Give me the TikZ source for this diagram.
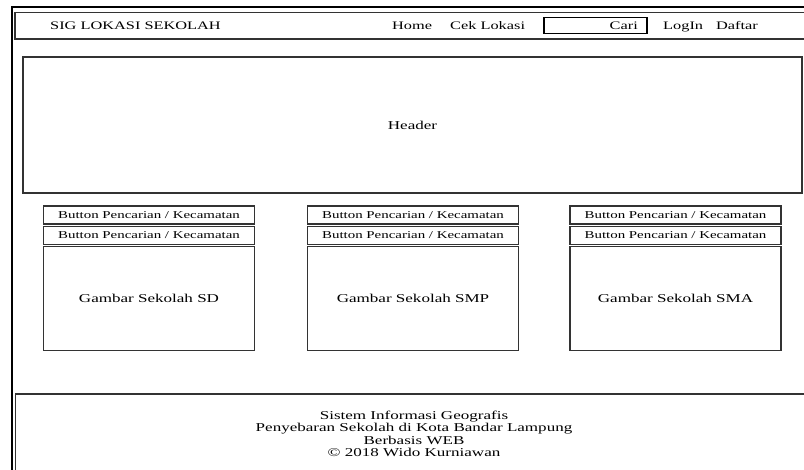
\documentclass[tikz,border=0pt]{standalone}
\usepackage{fontspec}
\setmainfont[FakeStretch=1.42]{Liberation Serif}
\begin{document}
\begin{tikzpicture}[x=1pt,y=-1pt,
  frame/.style={line width=2.8pt,black},
  panel/.style={draw=black!80,line width=1.3pt},
  btn/.style={panel,minimum width=211pt,minimum height=18pt,inner sep=0pt,font=\fontsize{10.5}{12}\selectfont},
  pic/.style={panel,minimum width=211pt,minimum height=104pt,inner sep=0pt,font=\fontsize{12}{14}\selectfont},
  lbl/.style={inner sep=0pt,font=\fontsize{11.5}{14}\selectfont}]
\useasboundingbox (0,0) rectangle (804,470);
% page frame
\draw[frame] (12,471) -- (12,7) -- (805,7);
% navigation bar
\draw[panel] (805,12.5) -- (15,12.5) -- (15,39) -- (805,39);
\node[lbl,anchor=base west] (title) at (50,29.5) {SIG LOKASI SEKOLAH};
\node[lbl,anchor=base west] (home) at (392,29.5) {Home};
\node[lbl,anchor=base west] (cek) at (450,29.5) {Cek Lokasi};
\node[draw=black,line width=1.5pt,minimum width=103pt,minimum height=16pt,inner sep=0pt] (search) at (595.5,25.5) {};
\node[lbl,anchor=base east] (cari) at (638,29.5) {Cari};
\node[lbl,anchor=base west] (login) at (663,29.5) {LogIn};
\node[lbl,anchor=base west] (daftar) at (716,29.5) {Daftar};
% header
\node[panel,minimum width=779pt,minimum height=136pt,inner sep=0pt,font=\fontsize{12}{14}\selectfont] (header) at (412.5,125) {Header};
% school columns
\foreach \n/\cx/\lab in {sd/149/SD,smp/413/SMP,sma/675.5/SMA}{
  \node[btn] (\n b1) at (\cx,215) {Button Pencarian / Kecamatan};
  \node[btn] (\n b2) at (\cx,235.5) {Button Pencarian / Kecamatan};
  \node[pic] (\n img) at (\cx,298.5) {Gambar Sekolah \lab};
}
% footer
\draw[panel] (15.5,471) -- (15.5,394) -- (805,394);
\node[inner sep=0pt,align=center,font=\fontsize{12}{12.5}\selectfont] (foot) at (414,434) {Sistem Informasi Geografis\\Penyebaran Sekolah di Kota Bandar Lampung\\Berbasis WEB\\\textcopyright{} 2018 Wido Kurniawan};
\end{tikzpicture}
\end{document}
